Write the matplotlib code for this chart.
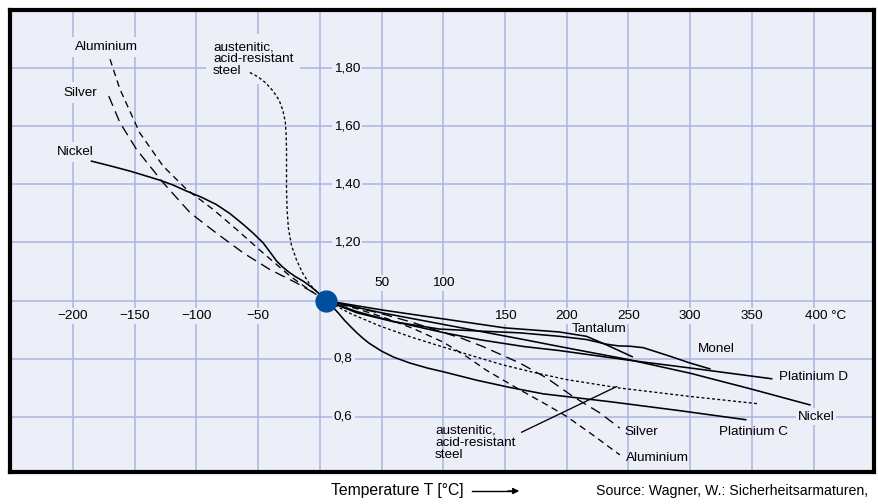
import matplotlib.pyplot as plt

plt.rcParams['font.family'] = ['Liberation Sans', 'DejaVu Sans']

# reference point (all curves meet here)
ref_t = 5
ref_v = 1.0

# curves: temperature in degC, ratio
nickel_t = [-185, -170, -154, -140, -130, -119, -108, -96, -84, -73, -62, -54, -46, -40, -35, -30,
            -26, -20, -13.5, -7, -1.4, 5,
            50, 100, 165, 194, 250, 300, 350, 397]
nickel_v = [1.480, 1.464, 1.446, 1.428, 1.415, 1.398, 1.377, 1.356, 1.331, 1.300, 1.262, 1.232,
            1.199, 1.165, 1.136, 1.115, 1.101, 1.083, 1.067, 1.047, 1.027, 1.0,
            0.958, 0.918, 0.866, 0.842, 0.797, 0.750, 0.695, 0.641]

silver_t = [-171, -162, -148.6, -127, -105, -84, -62, -40.5, -19, -5, 5,
            30, 50, 75, 95, 115, 132, 162, 184, 205, 227, 243]
silver_v = [1.704, 1.613, 1.521, 1.406, 1.302, 1.233, 1.164, 1.107, 1.061, 1.027, 1.0,
            0.976, 0.955, 0.925, 0.897, 0.870, 0.842, 0.785, 0.733, 0.670, 0.613, 0.561]

alu_t = [-170, -162, -146, -127, -108, -86.5, -67.5, -46, -24, -8, 5,
         30, 50, 75, 100, 118, 135, 162, 184, 200, 221, 243]
alu_v = [1.831, 1.728, 1.578, 1.463, 1.383, 1.314, 1.245, 1.164, 1.084, 1.035, 1.0,
         0.972, 0.945, 0.905, 0.857, 0.810, 0.760, 0.693, 0.641, 0.601, 0.538, 0.469]

steel_t = [-56.7, -50, -44, -38, -33, -30, -28, -27.3, -27, -27, -27, -26.5, -25.5, -23, -19,
           -14, -8, 0, 5,
           25, 49, 75, 100, 125, 148, 175, 200, 243, 300, 355]
steel_v = [1.785, 1.770, 1.750, 1.722, 1.690, 1.655, 1.615, 1.570, 1.520, 1.450, 1.383, 1.310,
           1.250, 1.190, 1.141, 1.095, 1.055, 1.020, 1.0,
           0.955, 0.912, 0.873, 0.840, 0.808, 0.779, 0.751, 0.728, 0.699, 0.670, 0.645]

tantal_t = [5, 50, 100, 150, 194, 216, 232, 253]
tantal_v = [1.0, 0.968, 0.937, 0.906, 0.892, 0.877, 0.848, 0.807]

monel_t = [5, 30, 60, 97, 130, 162, 194, 216, 232, 242, 251, 262, 284, 300, 316]
monel_v = [1.0, 0.958, 0.927, 0.902, 0.895, 0.889, 0.877, 0.866, 0.850, 0.844, 0.843, 0.838,
           0.808, 0.785, 0.765]

ptd_t = [5, 30, 60, 100, 130, 165, 194, 250, 300, 366]
ptd_v = [1.0, 0.962, 0.928, 0.890, 0.865, 0.842, 0.828, 0.795, 0.768, 0.731]

ptc_t = [5, 10, 15, 20, 25, 30, 35, 40, 50, 60, 73, 87, 100, 127, 154, 181, 235, 290, 345]
ptc_v = [1.0, 0.980, 0.957, 0.932, 0.910, 0.889, 0.870, 0.853, 0.826, 0.805, 0.785, 0.768,
         0.755, 0.726, 0.701, 0.679, 0.652, 0.622, 0.590]

x_ticks = [-200, -150, -100, -50, 50, 100, 150, 200, 250, 300, 350, 400]
y_ticks = [1.8, 1.6, 1.4, 1.2, 0.8, 0.6]
y_tick_labels = ['1,80', '1,60', '1,40', '1,20', '0,8', '0,6']

bg = '#eceef8'
grid_col = '#a9b5e0'
fs = 9.7

fig = plt.figure(figsize=(8.79, 5.04), dpi=100)
ax = fig.add_axes([0.0114, 0.0635, 0.983, 0.9165])
ax.set_facecolor(bg)
ax.set_xlim(-251, 449)
ax.set_ylim(0.41, 2.0)
ax.set_xticks([])
ax.set_yticks([])
for s in ax.spines.values():
    s.set_linewidth(3)
    s.set_color('black')
    s.set_zorder(10)

# grid
for t in range(-200, 450, 50):
    ax.axvline(t, color=grid_col, lw=1.1, zorder=1)
for v in [0.6, 0.8, 1.0, 1.2, 1.4, 1.6, 1.8]:
    ax.axhline(v, color=grid_col, lw=1.1, zorder=1)

box = dict(facecolor=bg, edgecolor='none', pad=1.5)

# tick labels drawn inside the plot
for t in x_ticks:
    lab = str(t).replace('-', '\u2212')
    if t == 400:
        ax.text(t - 7, 0.946, '400 °C', ha='left', va='center', fontsize=fs, bbox=box, zorder=3)
    elif t in (50, 100):
        ax.text(t, 1.059, lab, ha='center', va='center', fontsize=fs, bbox=box, zorder=3)
    else:
        ax.text(t, 0.946, lab, ha='center', va='center', fontsize=fs, bbox=box, zorder=3)
for v, lab in zip(y_ticks, y_tick_labels):
    ax.text(11.3, v, lab, ha='left', va='center', fontsize=fs, bbox=box, zorder=3)

# curves
lw = 1.15
ax.plot(nickel_t, nickel_v, color='black', lw=lw, zorder=5)
ax.plot(tantal_t, tantal_v, color='black', lw=lw, zorder=5)
ax.plot(monel_t, monel_v, color='black', lw=lw, zorder=5)
ax.plot(ptd_t, ptd_v, color='black', lw=lw, zorder=5)
ax.plot(ptc_t, ptc_v, color='black', lw=lw, zorder=5)
ax.plot(silver_t, silver_v, color='black', lw=0.95, ls=(0, (8, 4.5)), zorder=5)
ax.plot(alu_t, alu_v, color='black', lw=0.95, ls=(0, (5, 3.5)), zorder=5)
ax.plot(steel_t, steel_v, color='black', lw=0.95, ls=(0, (2.2, 1.8)), zorder=5)

ax.plot([ref_t], [ref_v], 'o', color='#004f9f', ms=15, zorder=6)

# curve labels
lab_box = dict(facecolor=bg, edgecolor='none', pad=3)
ax.text(-172.6, 1.873, 'Aluminium', ha='center', va='center', fontsize=fs, bbox=lab_box, zorder=3)
ax.text(-194, 1.716, 'Silver', ha='center', va='center', fontsize=fs, bbox=lab_box, zorder=3)
ax.text(-198.5, 1.511, 'Nickel', ha='center', va='center', fontsize=fs, bbox=lab_box, zorder=3)
ax.text(-86.5, 1.831, 'austenitic,\nacid-resistant\nsteel', ha='left', va='center',
        fontsize=fs, linespacing=1.0, bbox=dict(facecolor=bg, edgecolor='none', pad=5), zorder=3)

ax.text(226, 0.903, 'Tantalum', ha='center', va='center', fontsize=fs, zorder=4)
ax.text(321, 0.834, 'Monel', ha='center', va='center', fontsize=fs, zorder=4)
ax.text(372, 0.737, 'Platinium D', ha='left', va='center', fontsize=fs, zorder=4)
ax.text(402, 0.601, 'Nickel', ha='center', va='center', fontsize=fs, bbox=box, zorder=4)
ax.text(351, 0.549, 'Platinium C', ha='center', va='center', fontsize=fs, zorder=4)
ax.text(247, 0.546, 'Silver', ha='left', va='center', fontsize=fs, zorder=4)
ax.text(248, 0.458, 'Aluminium', ha='left', va='center', fontsize=fs, zorder=4)
ax.text(93.2, 0.510, 'austenitic,\nacid-resistant\nsteel', ha='left', va='center',
        fontsize=fs, linespacing=1.0, zorder=4)
ax.plot([163.5, 240.4], [0.547, 0.704], color='black', lw=0.95, zorder=5)

# footer
fig.text(331 / 879, 1 - 491 / 504, 'Temperature T [°C]', ha='left', va='center', fontsize=11.3)
fig.add_artist(plt.Line2D([472 / 879, 512 / 879], [1 - 491 / 504] * 2, color='black', lw=1.0))
ax.annotate('', xy=(522 / 879, 1 - 491 / 504), xytext=(505 / 879, 1 - 491 / 504),
            xycoords='figure fraction', textcoords='figure fraction',
            arrowprops=dict(arrowstyle='-|>', color='black', lw=1.0, mutation_scale=9))
fig.text(596 / 879, 1 - 491 / 504, 'Source: Wagner, W.: Sicherheitsarmaturen,',
         ha='left', va='center', fontsize=10.2)

fig.savefig('out.png', dpi=100)
